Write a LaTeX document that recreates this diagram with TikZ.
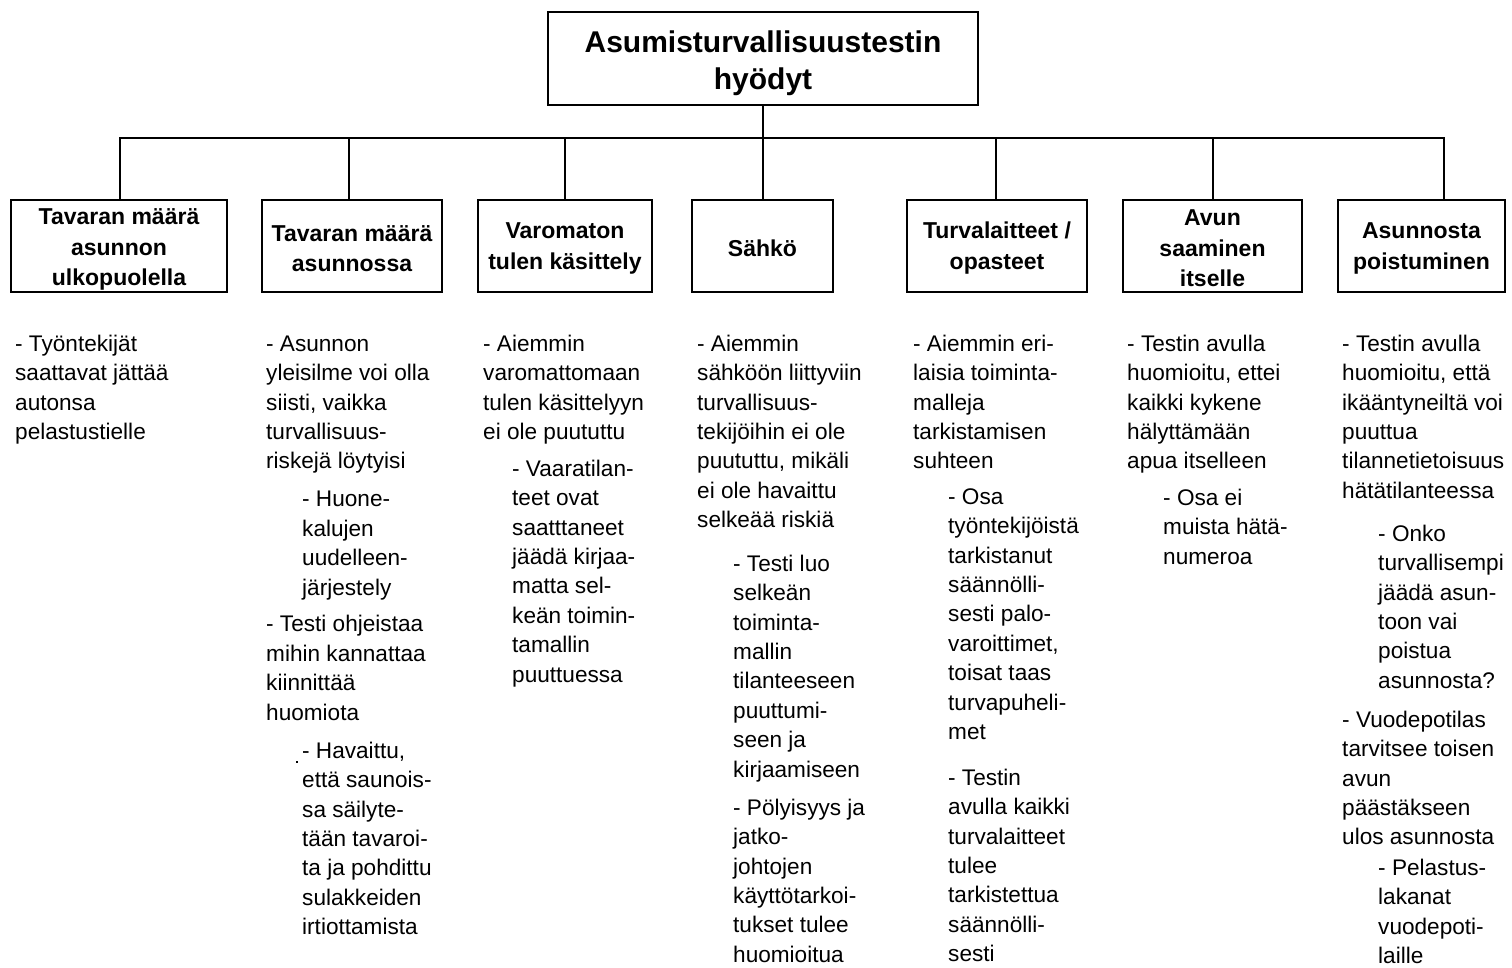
\documentclass[tikz,border=0pt]{standalone}
\usepackage{fontspec}
\setmainfont{Liberation Sans}
\newcommand{\bodyf}{\fontsize{22.6}{29.4}\selectfont}
\newcommand{\headf}{\fontsize{23}{30.5}\selectfont\bfseries}
\newcommand{\titlef}{\fontsize{30}{37}\selectfont\bfseries}
\newcommand{\hs}{\rule{0pt}{21pt}}
\begin{document}
\begin{tikzpicture}[x=1pt,y=-1pt,
  cat/.style={draw, line width=2.4pt, inner sep=0pt, align=center, font=\headf, minimum height=92pt},
  txt/.style={anchor=north west, inner sep=0pt, align=left, font=\bodyf},
  link/.style={line width=2.4pt}]
\useasboundingbox (0,0) rectangle (1512,968);
\fill[white] (0,0) rectangle (1512,968);
% title
\node[cat, font=\titlef, minimum width=430pt, minimum height=93pt] (top) at (763,58.5) {\rule{0pt}{31pt}Asumisturvallisuustestin\\hyödyt};
% category boxes
\node[cat, minimum width=216pt] (b1) at (119,246) {\rule{0pt}{23pt}Tavaran määrä\\asunnon\\ulkopuolella};
\node[cat, minimum width=180pt] (b2) at (352,246) {\hs Tavaran määrä\\asunnossa};
\node[cat, minimum width=174pt] (b3) at (565,246) {\hs Varomaton\\tulen käsittely};
\node[cat, minimum width=141pt] (b4) at (762.5,246) {\hs Sähkö};
\node[cat, minimum width=180pt] (b5) at (997,246) {\hs Turvalaitteet /\\opasteet};
\node[cat, minimum width=179pt] (b6) at (1212.5,246) {\hs Avun\\saaminen\\itselle};
\node[cat, minimum width=167pt] (b7) at (1421.5,246) {\hs Asunnosta\\poistuminen};
% connectors
\coordinate (d1) at (120,138);
\coordinate (d2) at (349,138);
\coordinate (d3) at (565,138);
\coordinate (d4) at (763,138);
\coordinate (d5) at (996,138);
\coordinate (d6) at (1213,138);
\coordinate (d7) at (1444,138);
\draw[link] (top.south) -- (top.south |- d4);
\draw[link] (d1 |- b1.north) -- (d1) -- (d7) -- (d7 |- b7.north);
\draw[link] (d2) -- (d2 |- b2.north);
\draw[link] (d3) -- (d3 |- b3.north);
\draw[link] (d4) -- (d4 |- b4.north);
\draw[link] (d5) -- (d5 |- b5.north);
\draw[link] (d6) -- (d6 |- b6.north);
% column 1
\node[txt] (t1a) at (15,331) {\rule{0pt}{20pt}- Työntekijät\\saattavat jättää\\autonsa\\pelastustielle};
% column 2
\node[txt] (t2a) at (266,331) {\rule{0pt}{20pt}- Asunnon\\yleisilme voi olla\\siisti, vaikka\\turvallisuus-\\riskejä löytyisi};
\node[txt] (t2b) at (302,486.7) {\rule{0pt}{20pt}- Huone-\\kalujen\\uudelleen-\\järjestely};
\node[txt] (t2c) at (266,611.7) {\rule{0pt}{20pt}- Testi ohjeistaa\\mihin kannattaa\\kiinnittää\\huomiota};
\node[txt] (t2d) at (302,738) {\rule{0pt}{20pt}- Havaittu,\\että saunois-\\sa säilyte-\\tään tavaroi-\\ta ja pohdittu\\sulakkeiden\\irtiottamista};
\fill (296,761) rectangle (298,763);
% column 3
\node[txt] (t3a) at (483,331) {\rule{0pt}{20pt}- Aiemmin\\varomattomaan\\tulen käsittelyyn\\ei ole puututtu};
\node[txt] (t3b) at (512,456) {\rule{0pt}{20pt}- Vaaratilan-\\teet ovat\\saatttaneet\\jäädä kirjaa-\\matta sel-\\keän toimin-\\tamallin\\puuttuessa};
% column 4
\node[txt] (t4a) at (697,331) {\rule{0pt}{20pt}- Aiemmin\\sähköön liittyviin\\turvallisuus-\\tekijöihin ei ole\\puututtu, mikäli\\ei ole havaittu\\selkeää riskiä};
\node[txt] (t4b) at (733,551) {\rule{0pt}{20pt}- Testi luo\\selkeän\\toiminta-\\mallin\\tilanteeseen\\puuttumi-\\seen ja\\kirjaamiseen};
\node[txt] (t4c) at (733,795) {\rule{0pt}{20pt}- Pölyisyys ja\\jatko-\\johtojen\\käyttötarkoi-\\tukset tulee\\huomioitua};
% column 5
\node[txt] (t5a) at (913,331) {\rule{0pt}{20pt}- Aiemmin eri-\\laisia toiminta-\\malleja\\tarkistamisen\\suhteen};
\node[txt] (t5b) at (948,484) {\rule{0pt}{20pt}- Osa\\työntekijöistä\\tarkistanut\\säännölli-\\sesti palo-\\varoittimet,\\toisat taas\\turvapuheli-\\met};
\node[txt] (t5c) at (948,765) {\rule{0pt}{20pt}- Testin\\avulla kaikki\\turvalaitteet\\tulee\\tarkistettua\\säännölli-\\sesti};
% column 6
\node[txt] (t6a) at (1127,331) {\rule{0pt}{20pt}- Testin avulla\\huomioitu, ettei\\kaikki kykene\\hälyttämään\\apua itselleen};
\node[txt] (t6b) at (1163,485) {\rule{0pt}{20pt}- Osa ei\\muista hätä-\\numeroa};
% column 7
\node[txt] (t7a) at (1342,331) {\rule{0pt}{20pt}- Testin avulla\\huomioitu, että\\ikääntyneiltä voi\\puuttua\\tilannetietoisuus\\hätätilanteessa};
\node[txt] (t7b) at (1378,521) {\rule{0pt}{20pt}- Onko\\turvallisempi\\jäädä asun-\\toon vai\\poistua\\asunnosta?};
\node[txt] (t7c) at (1342,707) {\rule{0pt}{20pt}- Vuodepotilas\\tarvitsee toisen\\avun\\päästäkseen\\ulos asunnosta};
\node[txt] (t7d) at (1378,855) {\rule{0pt}{20pt}- Pelastus-\\lakanat\\vuodepoti-\\laille};
\end{tikzpicture}
\end{document}
